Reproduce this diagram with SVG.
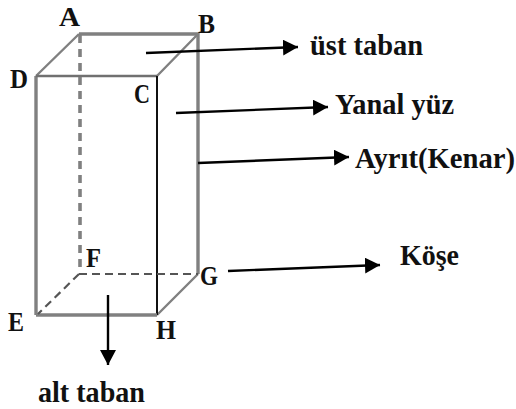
<svg xmlns="http://www.w3.org/2000/svg" width="516" height="409" viewBox="0 0 516 409">
<style>
.e{fill:none;stroke:#808080;stroke-width:3.4}
.t{fill:none;stroke:#808080;stroke-width:2.4}
.d{fill:none;stroke:#808080;stroke-width:3.6;stroke-dasharray:8 6}
.n{fill:none;stroke:#555;stroke-width:2.2;stroke-dasharray:8 5}
.a{fill:none;stroke:#000;stroke-width:2.4;marker-end:url(#h)}
text{font-family:"Liberation Serif",serif;font-weight:bold;fill:#111}
.l{font-size:29px}
.v{font-size:27px}
</style>
<defs><marker id="h" markerUnits="userSpaceOnUse" markerWidth="16" markerHeight="16" refX="15" refY="8" orient="auto"><path d="M0 0L15 8L0 16Z" fill="#000"/></marker></defs>
<g id="prism">
<path class="e" d="M79 34H198V274"/>
<path class="t" d="M79 34L36 76M198 34L157 76M198 274L157 315"/>
<path class="e" d="M36 315V76"/>
<path d="M36 76H157" fill="none" stroke="#707070" stroke-width="2.4"/>
<path d="M157 76V315" fill="none" stroke="#111" stroke-width="2"/>
<path class="e" d="M36 315H157"/>
<path class="d" d="M80 35V268"/>
<path class="n" d="M79 274H198M79 274L38 314"/>
</g>
<g id="connectors">
<path class="a" d="M146 53L298 47"/>
<path class="a" d="M176 113L328 107"/>
<path class="a" d="M198 163L349 157"/>
<path class="a" d="M228 271L380 265"/>
<path class="a" d="M108 295V365"/>
</g>
<g id="vertex-labels">
<text class="v" x="59" y="26" textLength="21" lengthAdjust="spacingAndGlyphs">A</text>
<text class="v" x="198" y="33" textLength="17" lengthAdjust="spacingAndGlyphs">B</text>
<text class="v" x="10" y="88" textLength="18" lengthAdjust="spacingAndGlyphs">D</text>
<text class="v" x="134" y="103" textLength="16" lengthAdjust="spacingAndGlyphs">C</text>
<text class="v" x="86" y="267" textLength="15" lengthAdjust="spacingAndGlyphs">F</text>
<text class="v" x="200" y="285" textLength="18" lengthAdjust="spacingAndGlyphs">G</text>
<text class="v" x="8" y="331" textLength="16" lengthAdjust="spacingAndGlyphs">E</text>
<text class="v" x="156" y="339" textLength="20" lengthAdjust="spacingAndGlyphs">H</text>
</g>
<g id="labels">
<text class="l" x="310" y="55" textLength="113" lengthAdjust="spacingAndGlyphs">üst taban</text>
<text class="l" x="335" y="114" textLength="119" lengthAdjust="spacingAndGlyphs">Yanal yüz</text>
<text class="l" x="355" y="168" textLength="160" lengthAdjust="spacingAndGlyphs">Ayrıt(Kenar)</text>
<text class="l" x="400" y="265" textLength="59" lengthAdjust="spacingAndGlyphs">Köşe</text>
<text class="l" x="38" y="402" textLength="107" lengthAdjust="spacingAndGlyphs">alt taban</text>
</g>
</svg>
